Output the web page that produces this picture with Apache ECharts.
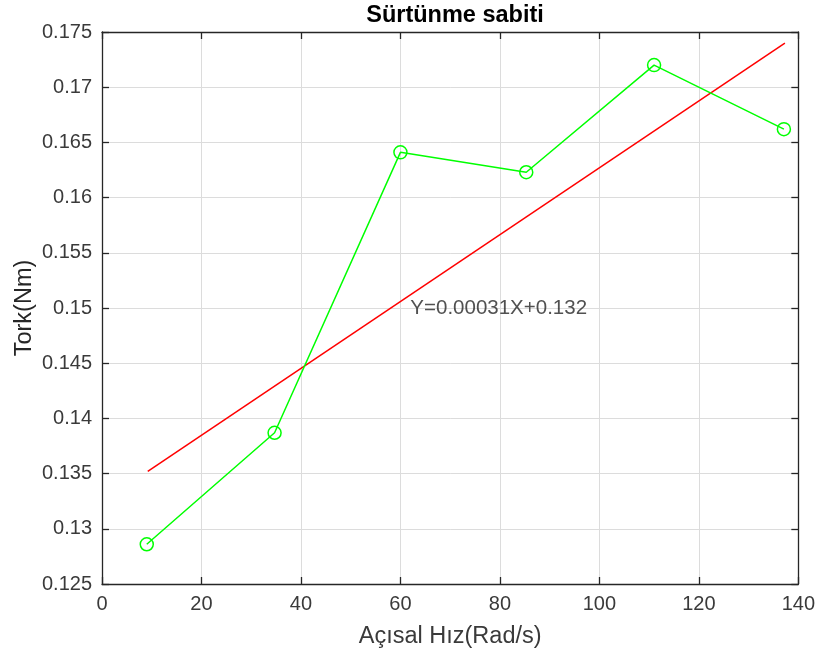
<!DOCTYPE html>
<html>
<head>
<meta charset="utf-8">
<script src="https://cdn.jsdelivr.net/npm/echarts@6/dist/echarts.min.js"></script>
<style>
html,body{margin:0;padding:0;background:#fff;}
#chart{width:818px;height:658px;}
</style>
</head>
<body>
<div id="chart"></div>
<script>
const titleText = "Sürtünme sabiti";
const xLabel = "Açısal Hız(Rad/s)";
const yLabel = "Tork(Nm)";
const speedX = [9.0, 34.7, 60.0, 85.3, 111.0, 137.1];
const torqueY = [0.1286, 0.1387, 0.1641, 0.1623, 0.1720, 0.1662];
const fitX = [9.2, 137.3];
const fitY = [0.1352, 0.1740];
const annotText = "Y=0.00031X+0.132";
const annotPos = [62, 0.15];
const xTicks = [0, 20, 40, 60, 80, 100, 120, 140];
const yTicks = [0.125, 0.13, 0.135, 0.14, 0.145, 0.15, 0.155, 0.16, 0.165, 0.17, 0.175];

const FONT = '"Liberation Sans", Arial, Helvetica, sans-serif';
const AX = '#262626';
const chart = echarts.init(document.getElementById('chart'), null, {renderer: 'canvas'});

const fmtY = v => parseFloat(v.toFixed(3)).toString();

function xAxisDef(pos, show) {
  return {
    type: 'value', position: pos,
    min: xTicks[0], max: xTicks[xTicks.length - 1], interval: xTicks[1] - xTicks[0],
    axisLine: {show: true, onZero: false, lineStyle: {color: AX, width: 1.3}},
    axisTick: {show: true, inside: true, length: 7, lineStyle: {color: AX, width: 1.3}},
    axisLabel: {show: show, color: '#3a3a3a', fontFamily: FONT, fontSize: 20, margin: 10},
    splitLine: {show: show, lineStyle: {color: '#dcdcdc', width: 1}},
    name: show ? xLabel : '', nameLocation: 'middle', nameGap: 41, nameMoveOverlap: false,
    nameTextStyle: {color: '#3a3a3a', fontFamily: FONT, fontSize: 23.5}
  };
}
function yAxisDef(pos, show) {
  return {
    type: 'value', position: pos,
    min: yTicks[0], max: yTicks[yTicks.length - 1], interval: 0.005,
    axisLine: {show: true, onZero: false, lineStyle: {color: AX, width: 1.3}},
    axisTick: {show: true, inside: true, length: 7, lineStyle: {color: AX, width: 1.3}},
    axisLabel: {show: show, color: '#3a3a3a', fontFamily: FONT, fontSize: 20, margin: 10, formatter: fmtY},
    splitLine: {show: show, lineStyle: {color: '#dcdcdc', width: 1}},
    name: show ? yLabel : '', nameLocation: 'middle', nameGap: 65, nameRotate: 90, nameMoveOverlap: false,
    nameTextStyle: {color: '#262626', fontFamily: FONT, fontSize: 23.5}
  };
}

chart.setOption({
  animation: false,
  backgroundColor: '#fff',
  title: {
    text: titleText, left: 450, textAlign: 'center', top: -1,
    textStyle: {fontFamily: FONT, fontSize: 23.5, fontWeight: 'bold', color: '#000'}
  },
  grid: {left: 102, right: 19, top: 32, bottom: 74, containLabel: false},
  xAxis: [xAxisDef('bottom', true), xAxisDef('top', false)],
  yAxis: [yAxisDef('left', true), yAxisDef('right', false)],
  series: [
    {
      type: 'line', xAxisIndex: 0, yAxisIndex: 0,
      data: speedX.map((x, i) => [x, torqueY[i]]),
      symbol: 'circle', symbolSize: 13, showAllSymbol: true,
      lineStyle: {color: '#00ff00', width: 1.5},
      itemStyle: {color: 'rgba(0,0,0,0)', borderColor: '#00ff00', borderWidth: 1.5},
      z: 3
    },
    {
      type: 'line', xAxisIndex: 0, yAxisIndex: 0,
      data: fitX.map((x, i) => [x, fitY[i]]),
      symbol: 'none',
      lineStyle: {color: '#ff0000', width: 1.5},
      z: 2
    },
    {
      type: 'scatter', xAxisIndex: 0, yAxisIndex: 0,
      data: [annotPos], symbolSize: 0, silent: true,
      label: {show: true, position: 'right', distance: 0, formatter: annotText,
        color: '#262626', fontFamily: FONT, fontSize: 20.5}
    }
  ]
});
</script>
</body>
</html>
